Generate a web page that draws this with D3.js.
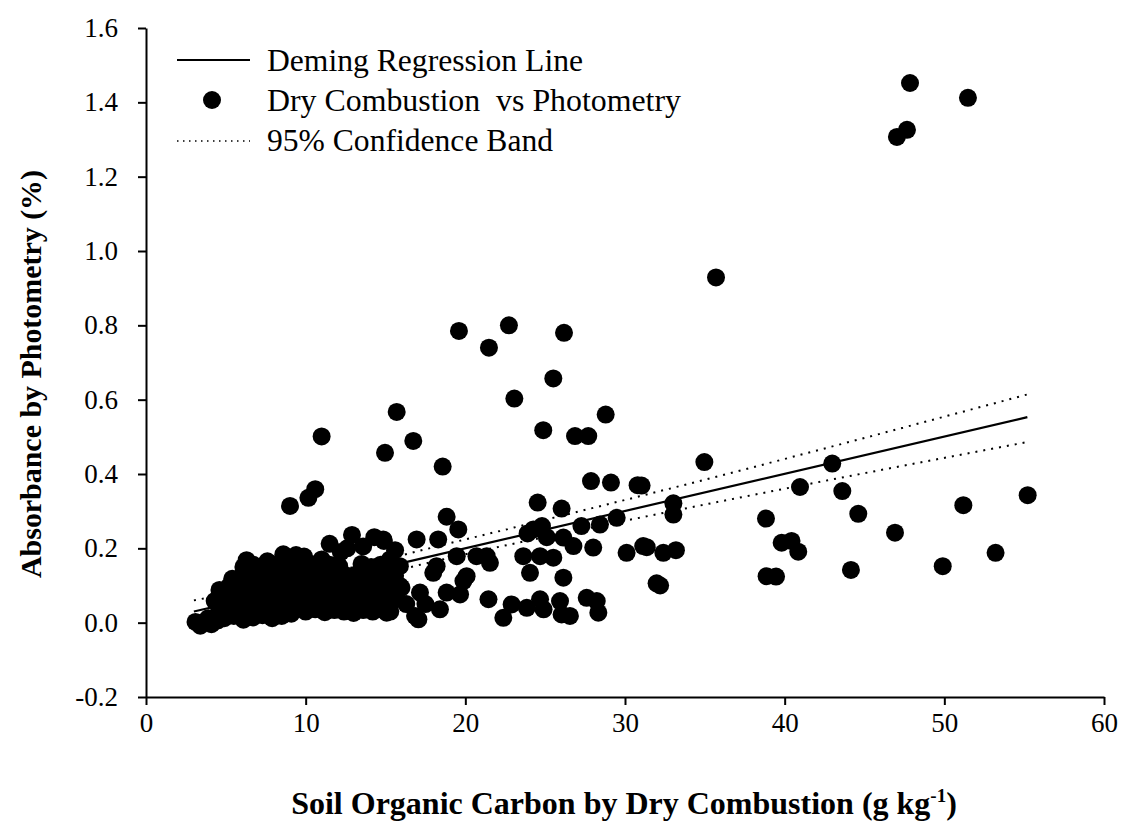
<!DOCTYPE html>
<html>
<head>
<meta charset="utf-8">
<script src="https://cdn.jsdelivr.net/npm/d3@7"></script>
<style>
  html, body { margin: 0; padding: 0; background: #fff; }
  svg { display: block; }
  text { font-family: "Liberation Serif", "Times New Roman", serif; fill: #000; }
</style>
</head>
<body>
<svg id="chart" width="1126" height="825"></svg>
<script>
// Dry-combustion soil organic carbon (g/kg) vs. photometric absorbance
const socDry = [
  3.1,3.4,3.7,4.1,4.5,3.9,
  4.9,5.5,6.1,6.7,7.3,7.9,8.5,9.1,
  4.6,5.2,5.8,6.4,7.0,7.6,8.2,8.8,9.4,10.0,10.6,11.2,11.8,12.4,13.0,13.6,14.2,14.8,15.3,
  4.3,4.9,5.5,6.1,6.7,7.3,7.9,8.5,9.1,9.7,10.3,10.9,11.5,12.1,12.7,13.3,13.9,14.5,15.1,15.7,
  4.6,5.2,5.8,6.4,7.0,7.6,8.2,8.8,9.4,10.0,10.6,11.2,11.8,12.4,13.0,13.6,14.2,14.8,15.4,16.0,
  5.4,6.0,6.6,7.2,7.8,8.4,9.0,9.6,10.2,10.8,11.4,12.0,12.6,13.2,13.8,14.4,15.0,15.6,
  6.1,6.7,7.3,7.9,8.5,9.1,9.7,10.3,10.9,11.5,12.1,13.5,14.1,14.7,15.3,
  6.3,7.6,8.6,9.4,9.9,11.0,11.5,12.2,12.9,13.6,14.3,14.9,15.6,12.6,
  15.7,16.74,14.97,18.58,11.0,10.6,10.17,9.02,
  18.83,19.56,16.95,18.3,14.86,
  15.28,15.9,17.99,18.2,19.46,20.08,19.88,19.67,18.83,17.16,15.9,18.41,16.85,17.06,15.07,16.3,17.5,
  20.7,21.34,21.54,21.45,22.9,22.38,23.85,24.68,24.9,25.93,26.03,26.55,27.6,28.23,28.33,
  24.05,26.14,23.63,24.68,25.51,26.14,26.77,28.01,30.1,31.14,24.26,23.9,24.8,25.1,
  27.27,28.43,29.48,24.53,26.03,27.87,29.12,30.79,
  19.6,22.73,21.48,26.18,25.51,23.07,28.79,24.88,26.87,27.7,34.97,42.98,35.7,
  47.85,51.48,47.03,47.66,
  31.04,33.03,33.03,40.96,43.61,44.61,38.83,31.36,32.4,33.19,31.98,32.2,
  39.81,40.43,40.85,38.87,39.46,44.15,46.91,49.9,51.19,53.21,55.22
];
const absPhoto = [
  0.002,-0.008,0.004,-0.004,0.006,0.012,
  0.012,0.018,0.008,0.014,0.02,0.012,0.018,0.024,
  0.036,0.04,0.032,0.038,0.03,0.042,0.036,0.03,0.038,0.03,0.036,0.028,0.034,0.03,0.026,0.034,0.03,0.036,0.03,
  0.058,0.066,0.062,0.07,0.064,0.068,0.06,0.066,0.07,0.062,0.068,0.06,0.066,0.064,0.07,0.062,0.066,0.06,0.068,0.064,
  0.088,0.098,0.094,0.1,0.092,0.098,0.09,0.096,0.1,0.092,0.098,0.09,0.096,0.1,0.094,0.09,0.098,0.092,0.1,0.094,
  0.118,0.126,0.122,0.13,0.124,0.128,0.12,0.126,0.13,0.122,0.128,0.12,0.126,0.13,0.122,0.128,0.12,0.126,
  0.15,0.156,0.152,0.158,0.15,0.156,0.152,0.158,0.15,0.156,0.152,0.158,0.15,0.156,0.152,
  0.168,0.165,0.184,0.182,0.178,0.17,0.212,0.19,0.236,0.205,0.23,0.22,0.195,0.2,
  0.567,0.489,0.457,0.42,0.501,0.359,0.336,0.314,
  0.285,0.251,0.224,0.224,0.224,
  0.17,0.152,0.134,0.152,0.179,0.125,0.112,0.076,0.081,0.081,0.099,0.036,0.018,0.009,0.027,0.05,0.05,
  0.179,0.179,0.161,0.063,0.049,0.013,0.04,0.063,0.036,0.058,0.022,0.018,0.067,0.058,0.027,
  0.134,0.121,0.179,0.179,0.175,0.229,0.206,0.202,0.188,0.206,0.251,0.24,0.26,0.23,
  0.26,0.264,0.282,0.323,0.307,0.381,0.377,0.37,
  0.785,0.8,0.74,0.78,0.657,0.603,0.56,0.518,0.502,0.502,0.432,0.428,0.929,
  1.452,1.412,1.307,1.326,
  0.369,0.321,0.291,0.365,0.354,0.293,0.28,0.203,0.188,0.195,0.106,0.1,
  0.215,0.22,0.191,0.125,0.124,0.142,0.242,0.152,0.316,0.188,0.343
];

// Deming regression line end points
const regX = [3.0, 55.2];
const regY = [0.03, 0.553];

// 95% confidence band
const bandX = [3.0, 10.0, 20.0, 31.0, 55.2];
const bandUpper = [0.060, 0.120, 0.224, 0.341, 0.614];
const bandLower = [0.002, 0.080, 0.184, 0.283, 0.486];

const xTicks = [0, 10, 20, 30, 40, 50, 60];
const yTicks = [-0.2, 0.0, 0.2, 0.4, 0.6, 0.8, 1.0, 1.2, 1.4, 1.6];

const legendLabels = ["Deming Regression Line", "Dry Combustion  vs Photometry", "95% Confidence Band"];

const svg = d3.select("#chart");
const x = d3.scaleLinear().domain([0, 60]).range([146, 1104]);
const y = d3.scaleLinear().domain([-0.2, 1.6]).range([697, 28]);

// axes
const fmtY = d => d3.format(".1f")(d).replace("\u2212", "-");
const xAxis = svg.append("g")
  .attr("transform", `translate(0,${y(-0.2)})`)
  .call(d3.axisBottom(x).tickValues(xTicks).tickFormat(d3.format("d")).tickSize(8).tickSizeOuter(0).tickPadding(8));
const yAxis = svg.append("g")
  .attr("transform", `translate(${x(0)},0)`)
  .call(d3.axisLeft(y).tickValues(yTicks).tickFormat(fmtY).tickSize(8).tickSizeOuter(0).tickPadding(20));

[xAxis, yAxis].forEach(g => {
  g.select(".domain").attr("stroke", "#000").attr("stroke-width", 2);
  g.selectAll(".tick line").attr("stroke", "#000").attr("stroke-width", 2);
  g.selectAll(".tick text").attr("font-family", "Liberation Serif").attr("font-size", 27).attr("fill", "#000");
});

// confidence band
const bandLine = d3.line().x(d => x(d[0])).y(d => y(d[1])).curve(d3.curveMonotoneX);
[bandUpper, bandLower].forEach(vals => {
  svg.append("path")
    .datum(bandX.map((bx, i) => [bx, vals[i]]))
    .attr("d", bandLine)
    .attr("fill", "none")
    .attr("stroke", "#000")
    .attr("stroke-width", 2)
    .attr("stroke-dasharray", "2,6");
});

// regression line
svg.append("line")
  .attr("x1", x(regX[0])).attr("y1", y(regY[0]))
  .attr("x2", x(regX[1])).attr("y2", y(regY[1]))
  .attr("stroke", "#000").attr("stroke-width", 2.2);

// points
svg.append("g").selectAll("circle")
  .data(socDry.map((sx, i) => [sx, absPhoto[i]]))
  .join("circle")
  .attr("cx", d => x(d[0]))
  .attr("cy", d => y(d[1]))
  .attr("r", 9)
  .attr("fill", "#000");

// legend
const lg = svg.append("g");
lg.append("line").attr("x1", 177).attr("x2", 250).attr("y1", 60).attr("y2", 60)
  .attr("stroke", "#000").attr("stroke-width", 2.2);
lg.append("circle").attr("cx", 212).attr("cy", 100).attr("r", 9).attr("fill", "#000");
lg.append("line").attr("x1", 177).attr("x2", 250).attr("y1", 141).attr("y2", 141)
  .attr("stroke", "#000").attr("stroke-width", 1.5).attr("stroke-dasharray", "1.5,4.5");
const legendWidths = [316, 414, 286];
legendLabels.forEach((t, i) => {
  lg.append("text")
    .attr("x", 267).attr("y", [71, 111, 151][i])
    .attr("font-size", 31)
    .attr("textLength", legendWidths[i])
    .attr("lengthAdjust", "spacingAndGlyphs")
    .attr("xml:space", "preserve")
    .style("white-space", "pre")
    .text(t);
});

// axis titles
const xt = svg.append("text")
  .attr("x", 624).attr("y", 814)
  .attr("text-anchor", "middle")
  .attr("font-size", 32).attr("font-weight", "bold");
xt.append("tspan").text("Soil Organic Carbon by Dry Combustion (g kg");
xt.append("tspan").attr("dy", -12).attr("font-size", 19).text("-1");
xt.append("tspan").attr("dy", 12).text(")");

svg.append("text")
  .attr("transform", `translate(41,374) rotate(-90)`)
  .attr("text-anchor", "middle")
  .attr("font-size", 30).attr("font-weight", "bold")
  .attr("textLength", 408)
  .attr("lengthAdjust", "spacingAndGlyphs")
  .text("Absorbance by Photometry (%)");
</script>
</body>
</html>
